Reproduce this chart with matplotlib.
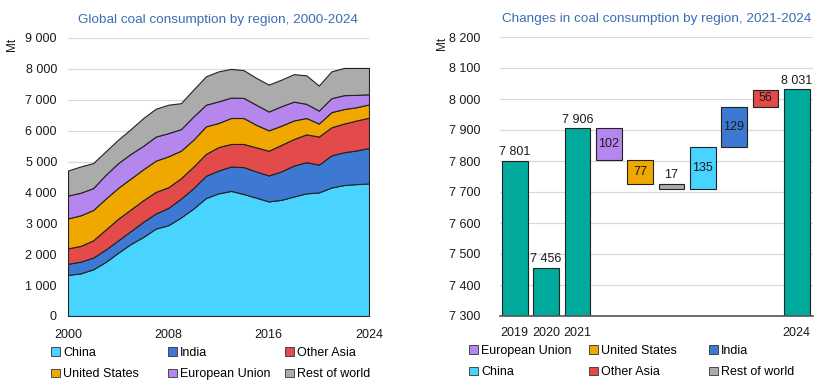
import numpy as np
import matplotlib
matplotlib.use("Agg")
import matplotlib.pyplot as plt
from matplotlib.ticker import FuncFormatter, MultipleLocator
from matplotlib.patches import Patch

plt.rcParams['font.family'] = ['Liberation Sans', 'DejaVu Sans']

# ---- left: stacked area data (Mt) ----
years = list(range(2000, 2025))
china = [1330, 1380, 1510, 1750, 2050, 2330, 2560, 2830, 2940, 3190, 3480, 3820, 3970,
         4050, 3950, 3830, 3710, 3760, 3870, 3970, 4000, 4160, 4240, 4270, 4290]
india = [360, 380, 380, 400, 400, 420, 490, 490, 560, 610, 660, 720, 740,
         790, 870, 850, 840, 920, 1000, 1010, 900, 1040, 1060, 1090, 1150]
other_asia = [500, 510, 560, 650, 700, 700, 700, 700, 670, 660, 700, 710, 760,
              730, 750, 780, 800, 860, 860, 900, 910, 910, 930, 970, 980]
united_states = [970, 990, 980, 1000, 1000, 1000, 1000, 1010, 1000, 890, 870, 890, 780,
                 840, 840, 730, 660, 620, 600, 530, 420, 490, 470, 430, 430]
european_union = [740, 730, 710, 770, 800, 800, 760, 780, 750, 700, 750, 700, 700,
                  660, 650, 650, 610, 630, 610, 460, 420, 450, 450, 400, 330]
rest_of_world = [810, 850, 810, 760, 760, 800, 900, 900, 920, 840, 870, 920, 970,
                 930, 900, 870, 870, 860, 890, 920, 810, 870, 880, 870, 850]

# ---- right: waterfall data (Mt) ----
wf_labels = ['2019', '2020', '2021', '', '', '', '', '', '', '2024']
totals = {'2019': 7801, '2020': 7456, '2021': 7906, '2024': 8031}
change_names = ['European Union', 'United States', 'Rest of world', 'China', 'India', 'Other Asia']
change_vals = [-102, -77, -17, 135, 129, 56]

colors = {'China': '#48D4FF', 'India': '#3D78D3', 'Other Asia': '#E34A4A',
          'United States': '#F0A800', 'European Union': '#B486EE', 'Rest of world': '#ABABAB'}
teal = '#00AB9D'
title_col = '#3A6EB4'
txt = '#1a1a1a'

fig = plt.figure(figsize=(8.32, 3.91), dpi=100)
ax1 = fig.add_axes([68/832, 1-316/391, 301/832, 278/391])
ax2 = fig.add_axes([500/832, 1-316/391, 313/832, 279/391])

sp = lambda v, p: '{:,.0f}'.format(v).replace(',', ' ')


def column_legends(names, x_px, y_px, pitch_px):
    # one small legend per column so columns sit at fixed spacing
    for c in range(3):
        col = names[c*2:c*2+2]
        hs = [Patch(facecolor=colors[n], edgecolor='#333333', lw=0.6) for n in col]
        fig.legend(hs, col, loc='upper left', bbox_to_anchor=((x_px + c*pitch_px)/832, 1-y_px/391),
                   ncol=1, frameon=False, fontsize=9, handlelength=0.7, handleheight=0.7,
                   handletextpad=0.25, labelspacing=0.75, borderaxespad=0, borderpad=0)


# left chart
series = [('China', china), ('India', india), ('Other Asia', other_asia),
          ('United States', united_states), ('European Union', european_union),
          ('Rest of world', rest_of_world)]
base = np.zeros(len(years))
for name, vals in series:
    top = base + np.array(vals)
    ax1.fill_between(years, base, top, facecolor=colors[name], edgecolor='#222222', lw=0.8, zorder=2)
    base = top
ax1.set_xlim(2000, 2024)
ax1.set_ylim(0, 9000)
ax1.yaxis.set_major_locator(MultipleLocator(1000))
ax1.yaxis.set_major_formatter(FuncFormatter(sp))
ax1.set_xticks([2000, 2008, 2016, 2024])
ax1.xaxis.set_minor_locator(MultipleLocator(1))
ax1.grid(axis='y', color='#d9d9d9', lw=0.9, zorder=0)
ax1.set_axisbelow(True)
for s in ['top', 'right', 'left']:
    ax1.spines[s].set_visible(False)
ax1.spines['bottom'].set_color('#333333')
ax1.tick_params(axis='y', length=0, labelsize=9, colors=txt, pad=8)
ax1.tick_params(axis='x', which='both', direction='in', length=3, color='#333333', labelsize=9, labelcolor=txt, pad=9)
ax1.set_title('Global coal consumption by region, 2000-2024', color=title_col, fontsize=9.7, pad=11)
ax1.text(-0.186, 1.0, 'Mt', transform=ax1.transAxes, rotation=90, ha='center', va='top', fontsize=8.5, color=txt)

column_legends(['China', 'United States', 'India', 'European Union', 'Other Asia', 'Rest of world'],
               51, 347, 117)

# right chart (waterfall)
x = np.arange(len(wf_labels))
w = 0.82
for i, lab in enumerate(wf_labels):
    if lab in totals:
        v = totals[lab]
        ax2.bar(i, v - 7300, bottom=7300, width=w, color=teal, edgecolor='#222222', lw=0.8, zorder=2)
        ax2.text(i, v + 8, sp(v, None), ha='center', va='bottom', fontsize=9, color=txt)
level = totals['2021']
for j, (name, d) in enumerate(zip(change_names, change_vals)):
    i = 3 + j
    lo, hi = min(level, level + d), max(level, level + d)
    ax2.bar(i, hi - lo, bottom=lo, width=w, color=colors[name], edgecolor='#222222', lw=0.8, zorder=2)
    if abs(d) > 40:
        ax2.text(i, (lo + hi) / 2, str(abs(d)), ha='center', va='center', fontsize=9, color=txt, zorder=3)
    else:
        ax2.text(i, hi + 8, str(abs(d)), ha='center', va='bottom', fontsize=9, color=txt, zorder=3)
    level = level + d
ax2.set_xlim(-0.47, 9.52)
ax2.set_ylim(7300, 8200)
ax2.yaxis.set_major_locator(MultipleLocator(100))
ax2.yaxis.set_major_formatter(FuncFormatter(sp))
ax2.set_xticks(x)
ax2.set_xticklabels(wf_labels)
ax2.grid(axis='y', color='#d9d9d9', lw=0.9, zorder=0)
ax2.set_axisbelow(True)
for s in ['top', 'right', 'left']:
    ax2.spines[s].set_visible(False)
ax2.spines['bottom'].set_color('#555555')
ax2.spines['bottom'].set_linewidth(1.2)
ax2.tick_params(axis='y', length=0, labelsize=9, colors=txt, pad=14)
ax2.tick_params(axis='x', length=0, labelsize=9, colors=txt, pad=8)
ax2.set_title('Changes in coal consumption by region, 2021-2024', color=title_col, fontsize=9.7, pad=11)
ax2.text(-0.185, 1.0, 'Mt', transform=ax2.transAxes, rotation=90, ha='center', va='top', fontsize=8.5, color=txt)

column_legends(['European Union', 'China', 'United States', 'Other Asia', 'India', 'Rest of world'],
               469, 345, 120)

fig.savefig('out.png', dpi=100)
